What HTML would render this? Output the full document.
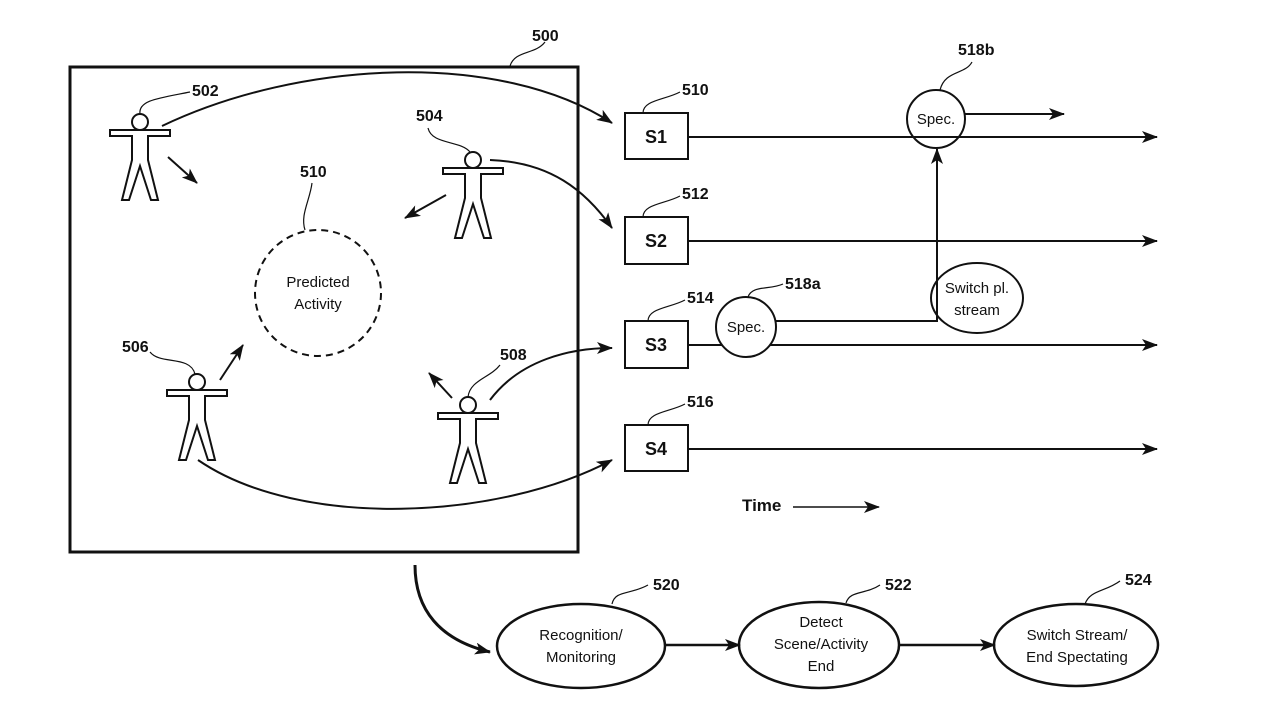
<!DOCTYPE html>
<html><head><meta charset="utf-8"><style>
body{margin:0;background:#fff;}
svg{display:block}
text{font-family:"Liberation Sans",Arial,sans-serif;fill:#111}
.n{font-weight:bold;font-size:16px}
.t{font-size:15px}
</style></head><body>
<svg width="1280" height="720" viewBox="0 0 1280 720" xmlns="http://www.w3.org/2000/svg">
<defs>
<marker id="a" markerWidth="16" markerHeight="12" refX="15" refY="6" orient="auto" markerUnits="userSpaceOnUse">
<path d="M0,0 L16,6 L0,12 L4,6 Z" fill="#111"/></marker>
<g id="p" fill="#fff" stroke="#111" stroke-width="2">
<circle cx="0" cy="0" r="8"/>
<path d="M-30,8 L30,8 L30,14 L8,14 L8,38 L18,78 L11,78 L0,44 L-11,78 L-18,78 L-8,38 L-8,14 L-30,14 Z" stroke-linejoin="miter"/>
</g>
</defs>
<g fill="none" stroke="#111" stroke-width="2">
<rect x="70" y="67" width="508" height="485" stroke-width="3"/>
<path d="M510,66 C515,50 535,55 545,42" stroke-width="1.2"/>
</g>
<use href="#p" x="140" y="122"/>
<use href="#p" x="473" y="160"/>
<use href="#p" x="197" y="382"/>
<use href="#p" x="468" y="405"/>
<g fill="none" stroke="#111" stroke-width="2">
<path d="M140,114 C138,100 160,98 190,92" stroke-width="1.2"/>
<path d="M428,128 C432,145 460,140 470,152" stroke-width="1.2"/>
<path d="M150,352 C160,365 190,355 195,374" stroke-width="1.2"/>
<path d="M468,397 C470,380 490,378 500,365" stroke-width="1.2"/>
<path d="M312,183 C310,200 300,215 305,230" stroke-width="1.2"/>
<line x1="168" y1="157" x2="197" y2="183" marker-end="url(#a)"/>
<line x1="446" y1="195" x2="405" y2="218" marker-end="url(#a)"/>
<line x1="220" y1="380" x2="243" y2="345" marker-end="url(#a)"/>
<line x1="452" y1="398" x2="429" y2="373" marker-end="url(#a)"/>
<circle cx="318" cy="293" r="63" stroke-dasharray="7,5"/>
<path d="M162,126 C300,60 500,50 612,123" marker-end="url(#a)"/>
<path d="M490,160 C550,162 585,190 612,228" marker-end="url(#a)"/>
<path d="M490,400 C520,360 570,348 612,348" marker-end="url(#a)"/>
<path d="M198,460 C300,530 500,520 612,460" marker-end="url(#a)"/>
<rect x="625" y="113" width="63" height="46"/>
<rect x="625" y="217" width="63" height="47"/>
<rect x="625" y="321" width="63" height="47"/>
<rect x="625" y="425" width="63" height="46"/>
<line x1="688" y1="137" x2="1157" y2="137" marker-end="url(#a)"/>
<line x1="688" y1="241" x2="1157" y2="241" marker-end="url(#a)"/>
<line x1="688" y1="345" x2="1157" y2="345" marker-end="url(#a)"/>
<line x1="688" y1="449" x2="1157" y2="449" marker-end="url(#a)"/>
<path d="M643,113 C643,100 665,100 680,92" stroke-width="1.2"/>
<path d="M643,217 C643,204 665,204 680,196" stroke-width="1.2"/>
<path d="M648,321 C648,308 670,308 685,300" stroke-width="1.2"/>
<path d="M648,425 C648,412 670,412 685,404" stroke-width="1.2"/>
<circle cx="936" cy="119" r="29"/>
<line x1="965" y1="114" x2="1064" y2="114" marker-end="url(#a)"/>
<path d="M940,90 C945,70 965,75 972,62" stroke-width="1.2"/>
<ellipse cx="977" cy="298" rx="46" ry="35" fill="#fff"/>
<path d="M776,321 L937,321 L937,149" marker-end="url(#a)"/>
<circle cx="746" cy="327" r="30" fill="#fff"/>
<line x1="776" y1="345" x2="1140" y2="345"/>
<path d="M748,297 C752,285 770,290 783,284" stroke-width="1.2"/>
<line x1="793" y1="507" x2="879" y2="507" stroke-width="1.5" marker-end="url(#a)"/>
<path d="M415,565 C415,610 440,640 490,652" stroke-width="3" marker-end="url(#a)"/>
<ellipse cx="581" cy="646" rx="84" ry="42" stroke-width="2.5"/>
<ellipse cx="819" cy="645" rx="80" ry="43" stroke-width="2.5"/>
<ellipse cx="1076" cy="645" rx="82" ry="41" stroke-width="2.5"/>
<line x1="665" y1="645" x2="740" y2="645" stroke-width="2.5" marker-end="url(#a)"/>
<line x1="899" y1="645" x2="995" y2="645" stroke-width="2.5" marker-end="url(#a)"/>
<path d="M612,604 C615,590 630,595 648,585" stroke-width="1.2"/>
<path d="M846,603 C850,590 865,595 880,585" stroke-width="1.2"/>
<path d="M1085,604 C1090,590 1105,592 1120,581" stroke-width="1.2"/>
</g>
<g>
<text class="n" x="532" y="41">500</text>
<text class="n" x="192" y="96">502</text>
<text class="n" x="416" y="121">504</text>
<text class="n" x="300" y="177">510</text>
<text class="n" x="122" y="352">506</text>
<text class="n" x="500" y="360">508</text>
<text class="t" x="318" y="287" text-anchor="middle">Predicted</text>
<text class="t" x="318" y="309" text-anchor="middle">Activity</text>
<text class="n" x="682" y="95">510</text>
<text class="n" x="682" y="199">512</text>
<text class="n" x="687" y="303">514</text>
<text class="n" x="687" y="407">516</text>
<text x="656" y="143" text-anchor="middle" font-size="18" font-weight="bold">S1</text>
<text x="656" y="247" text-anchor="middle" font-size="18" font-weight="bold">S2</text>
<text x="656" y="351" text-anchor="middle" font-size="18" font-weight="bold">S3</text>
<text x="656" y="455" text-anchor="middle" font-size="18" font-weight="bold">S4</text>
<text class="n" x="958" y="55">518b</text>
<text class="t" x="936" y="124" text-anchor="middle">Spec.</text>
<text class="n" x="785" y="289">518a</text>
<text class="t" x="746" y="332" text-anchor="middle">Spec.</text>
<text class="t" x="977" y="293" text-anchor="middle">Switch pl.</text>
<text class="t" x="977" y="315" text-anchor="middle">stream</text>
<text x="742" y="511" font-size="17" font-weight="bold">Time</text>
<text class="n" x="653" y="590">520</text>
<text class="n" x="885" y="590">522</text>
<text class="n" x="1125" y="585">524</text>
<text class="t" x="581" y="640" text-anchor="middle">Recognition/</text>
<text class="t" x="581" y="662" text-anchor="middle">Monitoring</text>
<text class="t" x="821" y="627" text-anchor="middle">Detect</text>
<text class="t" x="821" y="649" text-anchor="middle">Scene/Activity</text>
<text class="t" x="821" y="671" text-anchor="middle">End</text>
<text class="t" x="1077" y="640" text-anchor="middle">Switch Stream/</text>
<text class="t" x="1077" y="662" text-anchor="middle">End Spectating</text>
</g>
</svg>
</body></html>
